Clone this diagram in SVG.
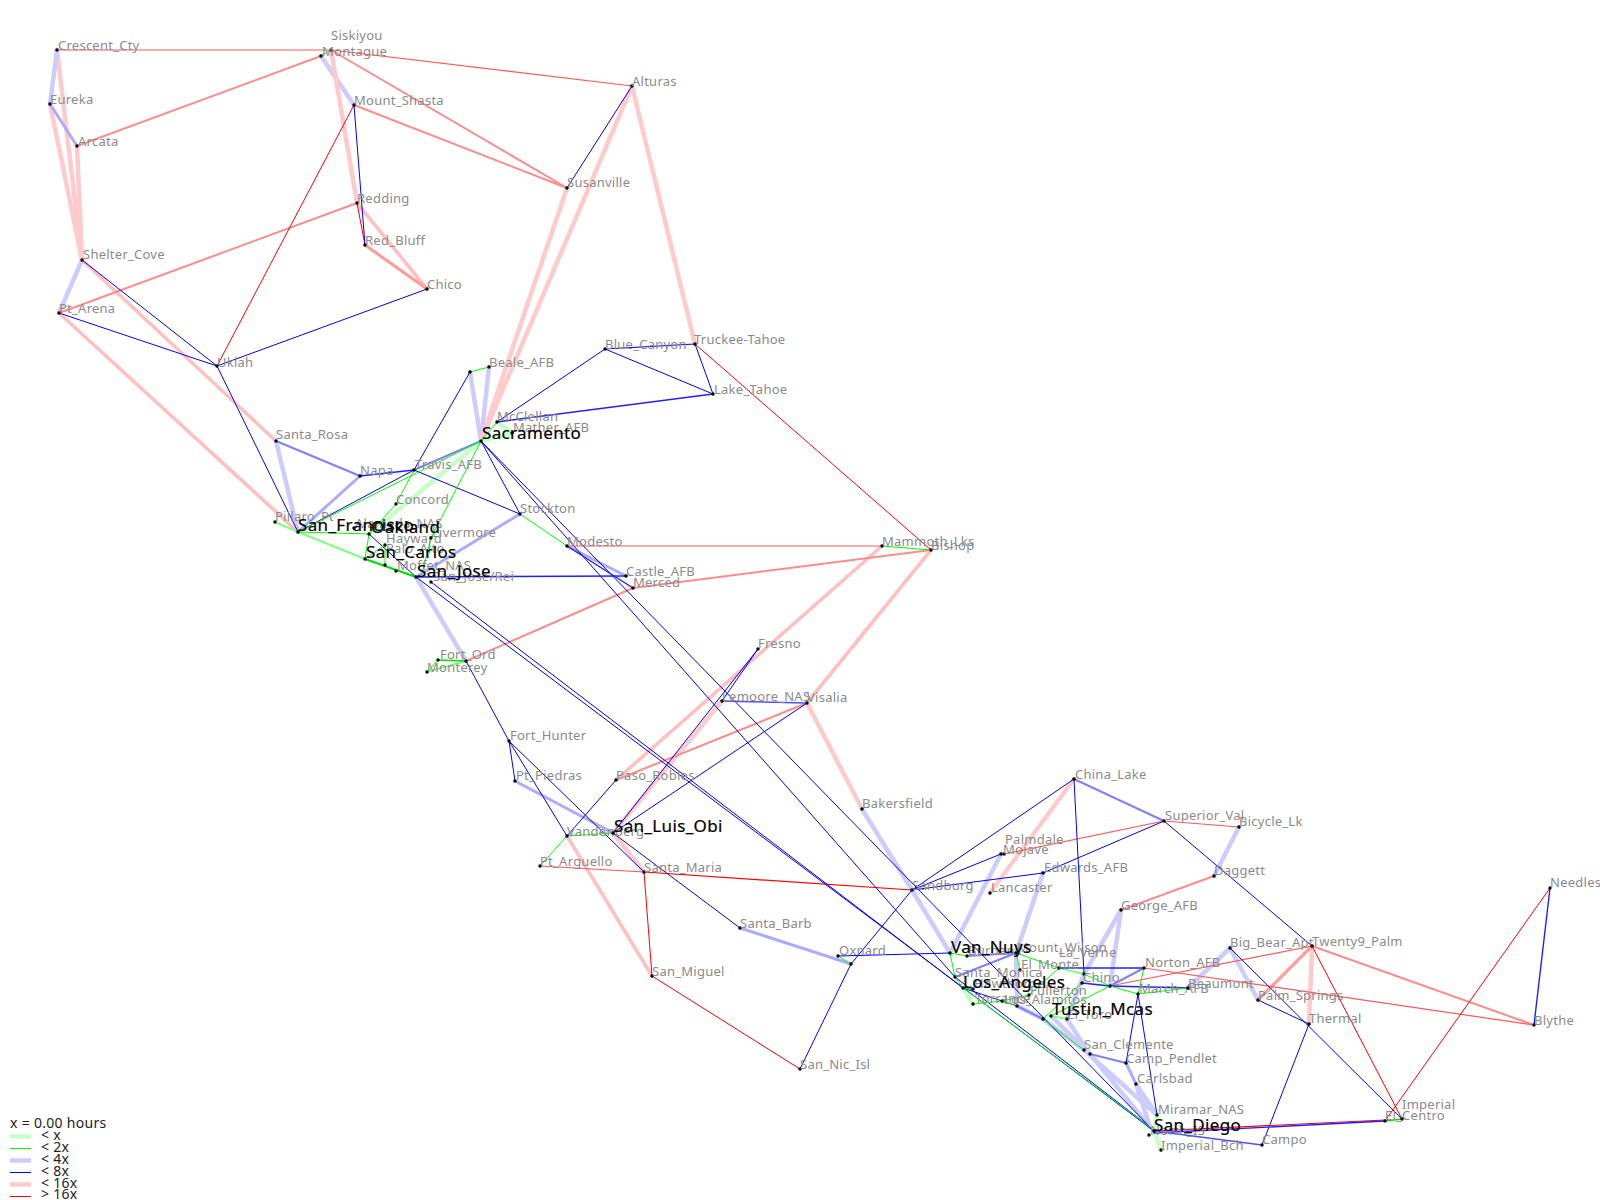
<svg xmlns="http://www.w3.org/2000/svg" width="1600" height="1200" viewBox="0 0 1600 1200">
<style>
text{font-family:"Noto Sans","DejaVu Sans",sans-serif;font-size:13px;letter-spacing:.25px;fill:#8a8a8a}
text.m{font-size:17px;letter-spacing:.35px;fill:#000;stroke:#000;stroke-width:.2}
text.k{font-size:14px;letter-spacing:.3px;fill:#222}
circle{fill:#000}
line{fill:none;stroke-linecap:round}
.G{stroke:#c8ffc8;stroke-width:4.5}
.h{stroke:#80ff80;stroke-width:2}
.g{stroke:#00ff00;stroke-width:1}
.gg{stroke:#00e000;stroke-width:2.2}
.B{stroke:#ccccff;stroke-width:4.5}
.c{stroke:#acacff;stroke-width:3}
.d{stroke:#8080ff;stroke-width:2}
.b{stroke:#0000ff;stroke-width:1}
.e{stroke:#2020ff;stroke-width:1.4}
.R{stroke:#ffcaca;stroke-width:4.5}
.s{stroke:#ff8c8c;stroke-width:2}
.t{stroke:#ff5858;stroke-width:1.2}
.r{stroke:#ff0000;stroke-width:1}
.u{stroke:#ff9c9c;stroke-width:3.2}
.p{stroke:#ffc0c0;stroke-width:3.6}
</style>
<g id="connectors">
<line class="R" x1="57" y1="50" x2="82" y2="260"/>
<line class="R" x1="50" y1="104" x2="82" y2="260"/>
<line class="R" x1="77" y1="146" x2="82" y2="260"/>
<line class="B" x1="57" y1="50" x2="50" y2="104"/>
<line class="c" x1="50" y1="104" x2="77" y2="146"/>
<line class="B" x1="321" y1="56" x2="354" y2="105"/>
<line class="R" x1="331" y1="50" x2="357" y2="203"/>
<line class="p" x1="357" y1="203" x2="427" y2="289"/>
<line class="u" x1="365" y1="245" x2="427" y2="289"/>
<line class="B" x1="82" y1="260" x2="59" y2="313"/>
<line class="p" x1="82" y1="260" x2="276" y2="441"/>
<line class="p" x1="59" y1="313" x2="298" y2="532"/>
<line class="B" x1="276" y1="441" x2="298" y2="532"/>
<line class="c" x1="360" y1="476" x2="298" y2="532"/>
<line class="G" x1="481" y1="441" x2="369" y2="534"/>
<line class="B" x1="470" y1="372" x2="481" y2="441"/>
<line class="B" x1="489" y1="367" x2="481" y2="441"/>
<line class="R" x1="567" y1="188" x2="481" y2="441"/>
<line class="R" x1="632" y1="86" x2="481" y2="441"/>
<line class="R" x1="632" y1="86" x2="695" y2="344"/>
<line class="G" x1="481" y1="441" x2="512" y2="433"/>
<line class="G" x1="497" y1="422" x2="512" y2="433"/>
<line class="B" x1="416" y1="577" x2="466" y2="661"/>
<line class="c" x1="567" y1="546" x2="626" y2="576"/>
<line class="c" x1="416" y1="577" x2="520" y2="514"/>
<line class="p" x1="616" y1="780" x2="882" y2="546"/>
<line class="R" x1="613" y1="833" x2="722" y2="701"/>
<line class="p" x1="807" y1="703" x2="931" y2="550"/>
<line class="R" x1="807" y1="703" x2="862" y2="809"/>
<line class="B" x1="862" y1="809" x2="912" y2="890"/>
<line class="B" x1="912" y1="890" x2="950" y2="953"/>
<line class="p" x1="567" y1="836" x2="652" y2="976"/>
<line class="R" x1="613" y1="833" x2="644" y2="872"/>
<line class="c" x1="740" y1="928" x2="851" y2="964"/>
<line class="R" x1="1074" y1="779" x2="990" y2="893"/>
<line class="B" x1="1001" y1="854" x2="950" y2="953"/>
<line class="B" x1="1043" y1="873" x2="1016" y2="953"/>
<line class="B" x1="1239" y1="827" x2="1214" y2="876"/>
<line class="B" x1="1121" y1="910" x2="1084" y2="974"/>
<line class="B" x1="1121" y1="910" x2="1110" y2="986"/>
<line class="B" x1="1084" y1="974" x2="1082" y2="983"/>
<line class="B" x1="1084" y1="974" x2="1067" y2="1019"/>
<line class="B" x1="1016" y1="953" x2="1017" y2="1006"/>
<line class="B" x1="1188" y1="988" x2="1230" y2="948"/>
<line class="B" x1="1230" y1="948" x2="1258" y2="1000"/>
<line class="R" x1="1312" y1="946" x2="1309" y2="1024"/>
<line class="u" x1="1312" y1="946" x2="1258" y2="1000"/>
<line class="G" x1="963" y1="988" x2="973" y2="1004"/>
<line class="B" x1="1017" y1="1006" x2="1043" y2="1019"/>
<line class="B" x1="1043" y1="1019" x2="1084" y2="1050"/>
<line class="B" x1="1051" y1="1016" x2="1090" y2="1054"/>
<line class="B" x1="1067" y1="1019" x2="1085" y2="1047"/>
<line class="B" x1="1090" y1="1054" x2="1150" y2="1127"/>
<line class="B" x1="1084" y1="1050" x2="1157" y2="1115"/>
<line class="B" x1="1136" y1="1084" x2="1157" y2="1115"/>
<line class="B" x1="1136" y1="1084" x2="1150" y2="1127"/>
<line class="c" x1="1126" y1="1063" x2="1136" y2="1084"/>
<line class="G" x1="1161" y1="1150" x2="1154" y2="1131"/>
<line class="G" x1="1157" y1="1115" x2="1154" y2="1131"/>
<line class="c" x1="515" y1="781" x2="613" y2="833"/>
<line class="d" x1="276" y1="441" x2="360" y2="476"/>
<line class="d" x1="414" y1="470" x2="481" y2="441"/>
<line class="h" x1="275" y1="522" x2="298" y2="532"/>
<line class="h" x1="298" y1="532" x2="365" y2="559"/>
<line class="h" x1="427" y1="672" x2="466" y2="661"/>
<line class="d" x1="1074" y1="779" x2="1164" y2="821"/>
<line class="d" x1="1090" y1="1054" x2="1126" y2="1063"/>
<line class="d" x1="967" y1="956" x2="1016" y2="953"/>
<line class="d" x1="955" y1="977" x2="1016" y2="953"/>
<line class="d" x1="1110" y1="986" x2="1144" y2="968"/>
<line class="h" x1="1059" y1="968" x2="1084" y2="974"/>
<line class="d" x1="1017" y1="1006" x2="1043" y2="1019"/>
<line class="s" x1="321" y1="56" x2="77" y2="146"/>
<line class="s" x1="331" y1="50" x2="567" y2="188"/>
<line class="s" x1="354" y1="105" x2="567" y2="188"/>
<line class="s" x1="59" y1="313" x2="357" y2="203"/>
<line class="s" x1="616" y1="780" x2="807" y2="703"/>
<line class="s" x1="466" y1="661" x2="633" y2="588"/>
<line class="s" x1="633" y1="588" x2="931" y2="550"/>
<line class="s" x1="1214" y1="876" x2="1121" y2="910"/>
<line class="s" x1="1312" y1="946" x2="1534" y2="1025"/>
<line class="t" x1="57" y1="50" x2="331" y2="50"/>
<line class="t" x1="331" y1="50" x2="632" y2="86"/>
<line class="t" x1="567" y1="546" x2="882" y2="546"/>
<line class="t" x1="540" y1="866" x2="644" y2="872"/>
<line class="t" x1="1004" y1="854" x2="1164" y2="821"/>
<line class="t" x1="1164" y1="821" x2="1239" y2="827"/>
<line class="t" x1="1110" y1="986" x2="1312" y2="946"/>
<line class="t" x1="1144" y1="968" x2="1534" y2="1025"/>
<line class="r" x1="354" y1="105" x2="217" y2="366"/>
<line class="r" x1="357" y1="203" x2="365" y2="245"/>
<line class="r" x1="695" y1="344" x2="931" y2="550"/>
<line class="r" style="stroke-width:1.2" x1="644" y1="872" x2="912" y2="890"/>
<line class="r" x1="644" y1="872" x2="652" y2="976"/>
<line class="r" x1="652" y1="976" x2="800" y2="1069"/>
<line class="r" x1="1312" y1="946" x2="1402" y2="1119"/>
<line class="r" x1="1550" y1="888" x2="1385" y2="1121"/>
<line class="r" style="stroke-width:1.2" x1="1154" y1="1131" x2="1385" y2="1120"/>
<line class="b" x1="632" y1="86" x2="567" y2="188"/>
<line class="b" x1="354" y1="105" x2="365" y2="245"/>
<line class="b" x1="82" y1="260" x2="217" y2="366"/>
<line class="b" x1="59" y1="313" x2="217" y2="366"/>
<line class="b" x1="217" y1="366" x2="427" y2="289"/>
<line class="b" x1="217" y1="366" x2="298" y2="532"/>
<line class="e" x1="360" y1="476" x2="414" y2="470"/>
<line class="b" x1="298" y1="532" x2="414" y2="470"/>
<line class="b" x1="414" y1="470" x2="520" y2="514"/>
<line class="b" x1="414" y1="470" x2="470" y2="372"/>
<line class="b" x1="481" y1="441" x2="520" y2="514"/>
<line class="b" x1="481" y1="441" x2="955" y2="977"/>
<line class="b" x1="481" y1="441" x2="1150" y2="1127"/>
<line class="b" x1="605" y1="349" x2="695" y2="344"/>
<line class="b" x1="605" y1="349" x2="713" y2="394"/>
<line class="b" x1="695" y1="344" x2="713" y2="394"/>
<line class="b" x1="605" y1="349" x2="497" y2="422"/>
<line class="e" x1="713" y1="394" x2="497" y2="422"/>
<line class="b" x1="369" y1="534" x2="416" y2="577"/>
<line class="e" x1="416" y1="577" x2="626" y2="576"/>
<line class="e" x1="567" y1="546" x2="633" y2="588"/>
<line class="b" x1="431" y1="582" x2="963" y2="988"/>
<line class="b" x1="416" y1="577" x2="1154" y2="1131"/>
<line class="b" x1="466" y1="661" x2="509" y2="741"/>
<line class="b" x1="509" y1="741" x2="515" y2="781"/>
<line class="b" x1="509" y1="741" x2="567" y2="836"/>
<line class="b" x1="509" y1="741" x2="644" y2="872"/>
<line class="b" x1="613" y1="833" x2="740" y2="928"/>
<line class="b" x1="567" y1="836" x2="616" y2="780"/>
<line class="b" x1="613" y1="833" x2="758" y2="649"/>
<line class="b" x1="722" y1="701" x2="758" y2="649"/>
<line class="b" x1="613" y1="833" x2="807" y2="703"/>
<line class="e" style="stroke:#5050ff" x1="722" y1="701" x2="807" y2="703"/>
<line class="b" x1="912" y1="890" x2="851" y2="964"/>
<line class="b" x1="851" y1="964" x2="800" y2="1069"/>
<line class="b" x1="838" y1="956" x2="950" y2="953"/>
<line class="b" x1="912" y1="890" x2="1074" y2="779"/>
<line class="b" x1="912" y1="890" x2="1001" y2="854"/>
<line class="b" x1="912" y1="890" x2="1043" y2="873"/>
<line class="b" x1="1043" y1="873" x2="1164" y2="821"/>
<line class="b" x1="1074" y1="779" x2="1084" y2="974"/>
<line class="b" x1="1164" y1="821" x2="1312" y2="946"/>
<line class="e" x1="1059" y1="968" x2="1144" y2="968"/>
<line class="e" x1="1082" y1="983" x2="1110" y2="986"/>
<line class="e" x1="1110" y1="986" x2="1188" y2="988"/>
<line class="b" x1="1138" y1="994" x2="1126" y2="1063"/>
<line class="b" x1="1138" y1="994" x2="1157" y2="1115"/>
<line class="b" x1="963" y1="988" x2="1017" y2="1006"/>
<line class="b" x1="955" y1="977" x2="1150" y2="1127"/>
<line class="b" x1="1230" y1="948" x2="1402" y2="1119"/>
<line class="b" x1="1258" y1="1000" x2="1309" y2="1024"/>
<line class="b" x1="1309" y1="1024" x2="1262" y2="1145"/>
<line class="e" x1="1550" y1="888" x2="1534" y2="1025"/>
<line class="e" x1="1154" y1="1133" x2="1385" y2="1121"/>
<line class="e" style="stroke:#5050ff" x1="1154" y1="1131" x2="1262" y2="1145"/>
<line class="g" x1="321" y1="56" x2="331" y2="50"/>
<line class="g" x1="298" y1="532" x2="481" y2="441"/>
<line class="g" x1="298" y1="532" x2="369" y2="534"/>
<line class="g" x1="369" y1="534" x2="365" y2="559"/>
<line class="g" x1="365" y1="559" x2="385" y2="545"/>
<line class="g" x1="385" y1="545" x2="385" y2="565"/>
<line class="gg" x1="365" y1="559" x2="416" y2="577"/>
<line class="g" x1="414" y1="470" x2="396" y2="504"/>
<line class="g" x1="396" y1="504" x2="369" y2="534"/>
<line class="g" x1="481" y1="441" x2="431" y2="538"/>
<line class="g" x1="431" y1="538" x2="422" y2="573"/>
<line class="g" x1="470" y1="372" x2="489" y2="367"/>
<line class="g" x1="481" y1="441" x2="497" y2="422"/>
<line class="g" x1="520" y1="514" x2="567" y2="546"/>
<line class="g" x1="882" y1="546" x2="931" y2="550"/>
<line class="e" style="stroke:#00e000" x1="438" y1="660" x2="466" y2="661"/>
<line class="g" x1="427" y1="672" x2="438" y2="660"/>
<line class="g" x1="567" y1="836" x2="613" y2="833"/>
<line class="g" x1="567" y1="836" x2="540" y2="866"/>
<line class="g" x1="838" y1="956" x2="851" y2="964"/>
<line class="g" x1="950" y1="953" x2="967" y2="956"/>
<line class="g" x1="950" y1="953" x2="955" y2="977"/>
<line class="g" x1="955" y1="977" x2="963" y2="988"/>
<line class="g" x1="963" y1="988" x2="973" y2="989"/>
<line class="g" x1="973" y1="1004" x2="1002" y2="1001"/>
<line class="g" x1="1002" y1="1001" x2="1017" y2="1006"/>
<line class="g" x1="1016" y1="953" x2="1059" y2="968"/>
<line class="g" x1="1016" y1="953" x2="1020" y2="970"/>
<line class="g" x1="1059" y1="968" x2="1029" y2="995"/>
<line class="g" x1="1029" y1="995" x2="1002" y2="1001"/>
<line class="g" x1="1084" y1="974" x2="1110" y2="986"/>
<line class="g" x1="1082" y1="983" x2="1043" y2="1019"/>
<line class="g" x1="1110" y1="986" x2="1051" y2="1016"/>
<line class="g" x1="1110" y1="986" x2="1138" y2="994"/>
<line class="g" x1="1138" y1="994" x2="1188" y2="988"/>
<line class="g" x1="1138" y1="994" x2="1144" y2="968"/>
<line class="h" x1="1051" y1="1016" x2="1067" y2="1019"/>
<line class="g" x1="1043" y1="1019" x2="1084" y2="1050"/>
<line class="g" x1="963" y1="988" x2="1150" y2="1127"/>
<line class="e" style="stroke:#00e000" x1="1385" y1="1121" x2="1402" y2="1119"/>
</g>
<g id="n-crescent"><circle cx="57" cy="50" r="1.7"/><text x="58" y="50">Crescent_Cty</text></g>
<g id="n-siskiyou"><circle cx="331" cy="50" r="1.7"/><text x="331" y="40">Siskiyou</text></g>
<g id="n-montague"><circle cx="321" cy="56" r="1.7"/><text x="322" y="56">Montague</text></g>
<g id="n-eureka"><circle cx="50" cy="104" r="1.7"/><text x="50" y="104">Eureka</text></g>
<g id="n-arcata"><circle cx="77" cy="146" r="1.7"/><text x="78" y="146">Arcata</text></g>
<g id="n-shelter"><circle cx="82" cy="260" r="1.7"/><text x="83" y="259">Shelter_Cove</text></g>
<g id="n-ptarena"><circle cx="59" cy="313" r="1.7"/><text x="59" y="313">Pt_Arena</text></g>
<g id="n-shasta"><circle cx="354" cy="105" r="1.7"/><text x="354" y="105">Mount_Shasta</text></g>
<g id="n-redding"><circle cx="357" cy="203" r="1.7"/><text x="357" y="203">Redding</text></g>
<g id="n-redbluff"><circle cx="365" cy="245" r="1.7"/><text x="365" y="245">Red_Bluff</text></g>
<g id="n-chico"><circle cx="427" cy="289" r="1.7"/><text x="427" y="289">Chico</text></g>
<g id="n-alturas"><circle cx="632" cy="86" r="1.7"/><text x="632" y="86">Alturas</text></g>
<g id="n-susanville"><circle cx="567" cy="188" r="1.7"/><text x="567" y="187">Susanville</text></g>
<g id="n-truckee"><circle cx="695" cy="344" r="1.7"/><text x="694" y="344">Truckee-Tahoe</text></g>
<g id="n-bluecanyon"><circle cx="605" cy="349" r="1.7"/><text x="605" y="349">Blue_Canyon</text></g>
<g id="n-laketahoe"><circle cx="713" cy="394" r="1.7"/><text x="714" y="394">Lake_Tahoe</text></g>
<g id="n-ukiah"><circle cx="217" cy="366" r="1.7"/><text x="217" y="367">Ukiah</text></g>
<g id="n-x470"><circle cx="470" cy="372" r="1.7"/></g>
<g id="n-beale"><circle cx="489" cy="367" r="1.7"/><text x="489" y="367">Beale_AFB</text></g>
<g id="n-mcclellan"><circle cx="497" cy="422" r="1.7"/><text x="497" y="421">McClellan</text></g>
<g id="n-mather"><circle cx="512" cy="433" r="1.7"/><text x="513" y="432">Mather_AFB</text></g>
<g id="n-santarosa"><circle cx="276" cy="441" r="1.7"/><text x="276" y="439">Santa_Rosa</text></g>
<g id="n-napa"><circle cx="360" cy="476" r="1.7"/><text x="360" y="475">Napa</text></g>
<g id="n-travis"><circle cx="414" cy="470" r="1.7"/><text x="415" y="469">Travis_AFB</text></g>
<g id="n-concord"><circle cx="396" cy="504" r="1.7"/><text x="396" y="504">Concord</text></g>
<g id="n-stockton"><circle cx="520" cy="514" r="1.7"/><text x="520" y="513">Stockton</text></g>
<g id="n-modesto"><circle cx="567" cy="546" r="1.7"/><text x="567" y="546">Modesto</text></g>
<g id="n-pillaro"><circle cx="275" cy="522" r="1.7"/><text x="275" y="521">Pillaro_Pt</text></g>
<g id="n-alameda"><circle cx="354" cy="528" r="1.7"/><text x="355" y="528">Alameda_NAS</text></g>
<g id="n-hayward"><circle cx="385" cy="545" r="1.7"/><text x="386" y="543">Hayward</text></g>
<g id="n-livermore"><circle cx="431" cy="538" r="1.7"/><text x="432" y="537">Livermore</text></g>
<g id="n-paloalto"><circle cx="385" cy="565" r="1.7"/><text x="386" y="553">Palo_Alto</text></g>
<g id="n-moffet"><circle cx="396" cy="571" r="1.7"/><text x="397" y="570">Moffet_NAS</text></g>
<g id="n-sjrei"><circle cx="431" cy="582" r="1.7"/><text x="433" y="581">San_Jose/Rei</text></g>
<g id="n-castle"><circle cx="626" cy="576" r="1.7"/><text x="626" y="576">Castle_AFB</text></g>
<g id="n-merced"><circle cx="633" cy="588" r="1.7"/><text x="633" y="587">Merced</text></g>
<g id="n-mammoth"><circle cx="882" cy="546" r="1.7"/><text x="882" y="546">Mammoth_Lks</text></g>
<g id="n-bishop"><circle cx="931" cy="550" r="1.7"/><text x="931" y="550">Bishop</text></g>
<g id="n-fortord"><circle cx="438" cy="660" r="1.7"/><text x="440" y="659">Fort_Ord</text></g>
<g id="n-x466"><circle cx="466" cy="661" r="1.7"/></g>
<g id="n-monterey"><circle cx="427" cy="672" r="1.7"/><text x="427" y="672">Monterey</text></g>
<g id="n-forthunter"><circle cx="509" cy="741" r="1.7"/><text x="510" y="740">Fort_Hunter</text></g>
<g id="n-piedras"><circle cx="515" cy="781" r="1.7"/><text x="516" y="780">Pt_Piedras</text></g>
<g id="n-fresno"><circle cx="758" cy="649" r="1.7"/><text x="758" y="648">Fresno</text></g>
<g id="n-lemoore"><circle cx="722" cy="701" r="1.7"/><text x="722" y="701">Lemoore_NAS</text></g>
<g id="n-visalia"><circle cx="807" cy="703" r="1.7"/><text x="807" y="702">Visalia</text></g>
<g id="n-paso"><circle cx="616" cy="780" r="1.7"/><text x="616" y="780">Paso_Robles</text></g>
<g id="n-vandenberg"><circle cx="567" cy="836" r="1.7"/><text x="567" y="836">Vandenberg</text></g>
<g id="n-arguello"><circle cx="540" cy="866" r="1.7"/><text x="540" y="866">Pt_Arguello</text></g>
<g id="n-santamaria"><circle cx="644" cy="872" r="1.7"/><text x="644" y="872">Santa_Maria</text></g>
<g id="n-santabarb"><circle cx="740" cy="928" r="1.7"/><text x="740" y="928">Santa_Barb</text></g>
<g id="n-sanmiguel"><circle cx="652" cy="976" r="1.7"/><text x="652" y="976">San_Miguel</text></g>
<g id="n-bakersfield"><circle cx="862" cy="809" r="1.7"/><text x="862" y="808">Bakersfield</text></g>
<g id="n-oxnard"><circle cx="838" cy="956" r="1.7"/><text x="839" y="955">Oxnard</text></g>
<g id="n-x851"><circle cx="851" cy="964" r="1.7"/></g>
<g id="n-sannic"><circle cx="800" cy="1069" r="1.7"/><text x="800" y="1069">San_Nic_Isl</text></g>
<g id="n-chinalake"><circle cx="1074" cy="779" r="1.7"/><text x="1075" y="779">China_Lake</text></g>
<g id="n-superior"><circle cx="1164" cy="821" r="1.7"/><text x="1165" y="820">Superior_Val</text></g>
<g id="n-bicycle"><circle cx="1239" cy="827" r="1.7"/><text x="1239" y="826">Bicycle_Lk</text></g>
<g id="n-palmdale"><circle cx="1004" cy="854" r="1.7"/><text x="1005" y="844">Palmdale</text></g>
<g id="n-mojave"><circle cx="1001" cy="854" r="1.7"/><text x="1003" y="854">Mojave</text></g>
<g id="n-edwards"><circle cx="1043" cy="873" r="1.7"/><text x="1044" y="872">Edwards_AFB</text></g>
<g id="n-lancaster"><circle cx="990" cy="893" r="1.7"/><text x="991" y="892">Lancaster</text></g>
<g id="n-sandburg"><circle cx="912" cy="890" r="1.7"/><text x="912" y="890">Sandburg</text></g>
<g id="n-daggett"><circle cx="1214" cy="876" r="1.7"/><text x="1214" y="875">Daggett</text></g>
<g id="n-george"><circle cx="1121" cy="910" r="1.7"/><text x="1121" y="910">George_AFB</text></g>
<g id="n-burbank"><circle cx="967" cy="956" r="1.7"/><text x="968" y="955">Burbank</text></g>
<g id="n-wilson"><circle cx="1016" cy="953" r="1.7"/><text x="1017" y="952">Mount_Wilson</text></g>
<g id="n-laverne"><circle cx="1059" cy="968" r="1.7"/><text x="1059" y="957">La_Verne</text></g>
<g id="n-x1084"><circle cx="1084" cy="974" r="1.7"/></g>
<g id="n-elmonte"><circle cx="1020" cy="970" r="1.7"/><text x="1021" y="969">El_Monte</text></g>
<g id="n-chino"><circle cx="1082" cy="983" r="1.7"/><text x="1083" y="982">Chino</text></g>
<g id="n-x1110"><circle cx="1110" cy="986" r="1.7"/></g>
<g id="n-norton"><circle cx="1144" cy="968" r="1.7"/><text x="1145" y="967">Norton_AFB</text></g>
<g id="n-march"><circle cx="1138" cy="994" r="1.7"/><text x="1139" y="993">March_AFB</text></g>
<g id="n-beaumont"><circle cx="1188" cy="988" r="1.7"/><text x="1188" y="988">Beaumont</text></g>
<g id="n-bigbear"><circle cx="1230" cy="948" r="1.7"/><text x="1230" y="947">Big_Bear_Apt</text></g>
<g id="n-twenty9"><circle cx="1312" cy="946" r="1.7"/><text x="1312" y="946">Twenty9_Palm</text></g>
<g id="n-palmsprings"><circle cx="1258" cy="1000" r="1.7"/><text x="1258" y="1000">Palm_Springs</text></g>
<g id="n-thermal"><circle cx="1309" cy="1024" r="1.7"/><text x="1309" y="1023">Thermal</text></g>
<g id="n-blythe"><circle cx="1534" cy="1025" r="1.7"/><text x="1534" y="1025">Blythe</text></g>
<g id="n-needles"><circle cx="1550" cy="888" r="1.7"/><text x="1550" y="887">Needles</text></g>
<g id="n-elcentro"><circle cx="1385" cy="1121" r="1.7"/><text x="1385" y="1120">El_Centro</text></g>
<g id="n-imperial"><circle cx="1402" cy="1119" r="1.7"/><text x="1402" y="1109">Imperial</text></g>
<g id="n-santamonica"><circle cx="955" cy="977" r="1.7"/><text x="955" y="977">Santa_Monica</text></g>
<g id="n-hawthorne"><circle cx="973" cy="989" r="1.7"/><text x="974" y="988">Hawthorne</text></g>
<g id="n-torrance"><circle cx="973" cy="1004" r="1.7"/><text x="975" y="1003">Torrance</text></g>
<g id="n-fullerton"><circle cx="1029" cy="995" r="1.7"/><text x="1030" y="995">Fullerton</text></g>
<g id="n-alamitos"><circle cx="1002" cy="1001" r="1.7"/><text x="1004" y="1004">Los_Alamitos</text></g>
<g id="n-x1017"><circle cx="1017" cy="1006" r="1.7"/></g>
<g id="n-x1051"><circle cx="1051" cy="1016" r="1.7"/></g>
<g id="n-eltoro"><circle cx="1067" cy="1019" r="1.7"/><text x="1067" y="1019">El_Toro</text></g>
<g id="n-sanclemente"><circle cx="1084" cy="1050" r="1.7"/><text x="1084" y="1049">San_Clemente</text></g>
<g id="n-x1090"><circle cx="1090" cy="1054" r="1.7"/></g>
<g id="n-pendlet"><circle cx="1126" cy="1063" r="1.7"/><text x="1126" y="1063">Camp_Pendlet</text></g>
<g id="n-carlsbad"><circle cx="1136" cy="1084" r="1.7"/><text x="1137" y="1083">Carlsbad</text></g>
<g id="n-miramar"><circle cx="1157" cy="1115" r="1.7"/><text x="1158" y="1114">Miramar_NAS</text></g>
<g id="n-northis"><circle cx="1149" cy="1135" r="1.7"/><text x="1150" y="1135">North_IS</text></g>
<g id="n-impbch"><circle cx="1161" cy="1150" r="1.7"/><text x="1161" y="1150">Imperial_Bch</text></g>
<g id="n-campo"><circle cx="1262" cy="1145" r="1.7"/><text x="1262" y="1144">Campo</text></g>
<g id="n-sacramento"><circle cx="481" cy="441" r="1.7"/><text class="m" x="482" y="439">Sacramento</text></g>
<g id="n-sanfrancisco"><circle cx="298" cy="532" r="1.7"/><text class="m" x="298" y="531">San_Francisco</text></g>
<g id="n-oakland"><circle cx="369" cy="534" r="1.7"/><text class="m" x="371" y="533">Oakland</text></g>
<g id="n-sancarlos"><circle cx="365" cy="559" r="1.7"/><text class="m" x="366" y="558">San_Carlos</text></g>
<g id="n-sanjose"><circle cx="416" cy="577" r="1.7"/><text class="m" x="417" y="577">San_Jose</text></g>
<g id="n-sanluis"><circle cx="613" cy="833" r="1.7"/><text class="m" x="614" y="832">San_Luis_Obi</text></g>
<g id="n-vannuys"><circle cx="950" cy="953" r="1.7"/><text class="m" x="951" y="953">Van_Nuys</text></g>
<g id="n-losangeles"><circle cx="963" cy="988" r="1.7"/><text class="m" x="963" y="988">Los_Angeles</text></g>
<g id="n-tustin"><circle cx="1043" cy="1019" r="1.7"/><text class="m" x="1052" y="1015">Tustin_Mcas</text></g>
<g id="n-sandiego"><circle cx="1154" cy="1131" r="1.7"/><text class="m" x="1154" y="1131">San_Diego</text></g>
<g id="legend">
<text class="k" x="10" y="1128">x = 0.00 hours</text>
<line class="G" style="stroke-linecap:butt" x1="10" y1="1136.5" x2="31" y2="1136.5"/><text class="k" x="41" y="1140">&lt; x</text>
<line class="g" style="stroke-linecap:butt" x1="10" y1="1148.5" x2="31" y2="1148.5"/><text class="k" x="41" y="1152">&lt; 2x</text>
<line class="B" style="stroke-linecap:butt" x1="10" y1="1160.5" x2="31" y2="1160.5"/><text class="k" x="41" y="1164">&lt; 4x</text>
<line class="b" style="stroke-linecap:butt" x1="10" y1="1172.5" x2="31" y2="1172.5"/><text class="k" x="41" y="1176">&lt; 8x</text>
<line class="R" style="stroke-linecap:butt" x1="10" y1="1184.5" x2="31" y2="1184.5"/><text class="k" x="41" y="1188">&lt; 16x</text>
<line class="r" style="stroke-linecap:butt" x1="10" y1="1196.5" x2="31" y2="1196.5"/><text class="k" x="41" y="1199">&gt; 16x</text>
</g>
</svg>
